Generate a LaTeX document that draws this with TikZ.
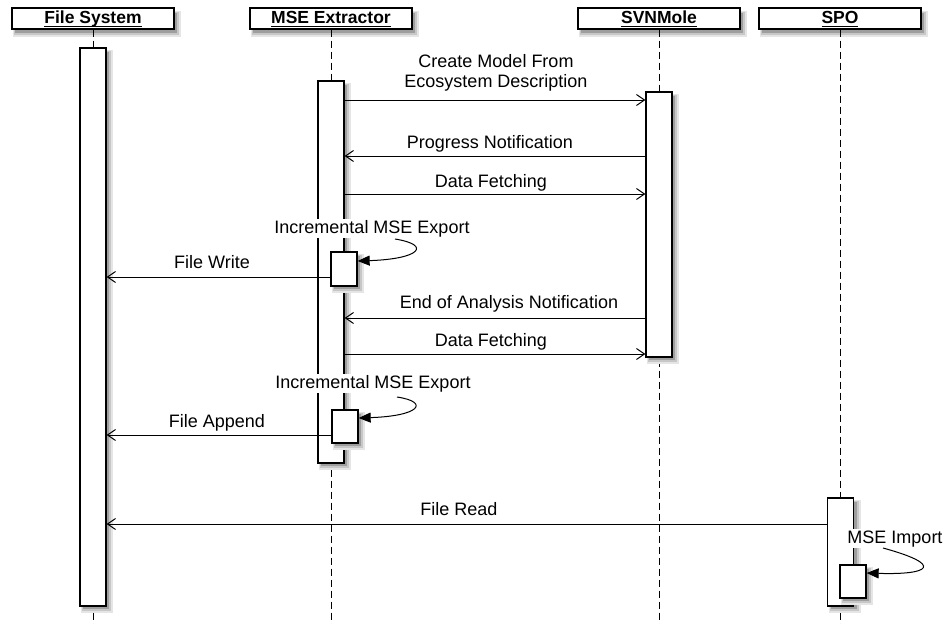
\documentclass[tikz,border=0pt]{standalone}
\usepackage{fontspec}
\setmainfont{Liberation Sans}
\usetikzlibrary{arrows.meta,positioning}
\newcommand\headtext[1]{\setbox0\hbox{#1}\rlap{\vrule height -2pt depth 3.3pt width \wd0}\box0}
\definecolor{shadeA}{gray}{0.90}
\definecolor{shadeB}{gray}{0.78}
\definecolor{shadeC}{gray}{0.62}

\begin{document}
\begin{tikzpicture}[x=1pt,y=-1pt,
    every node/.style={font=\fontsize{18}{20}\selectfont},
    head/.style={draw, line width=1.3pt, fill=white, minimum width=162pt, minimum height=21pt,
        inner sep=0pt, text height=12.5pt, text depth=2.5pt, font=\fontsize{17.5}{20}\selectfont\bfseries},
    bar/.style={draw, line width=1.3pt, fill=white, minimum width=26pt, inner sep=0pt},
    life/.style={dash pattern=on 7pt off 4pt, line width=1pt},
    msg/.style={-{Straight Barb[length=8pt,width=11pt]}, line width=1pt},
    selfcall/.style={-{Triangle[length=12pt,width=10pt]}, line width=1pt},
    lbl/.style={anchor=base, fill=white, inner sep=1pt}
    ]
\useasboundingbox (0,0) rectangle (946,624);

\foreach \n/\hx/\txt in {fs/93/File System, mse/331/MSE Extractor, svn/659/SVNMole, spo/840/SPO}{
    \fill[shadeA] (\hx-80,11) rectangle (\hx+88,37);
    \fill[shadeB] (\hx-79,12) rectangle (\hx+86,35);
    \fill[shadeC] (\hx-78,13) rectangle (\hx+84,33);
    \node[head] (\n) at (\hx,18.5) {\headtext{\txt}};
}

\foreach \n in {fs,mse,svn,spo}
    \draw[life] (\n.south) -- (\n.south |- 0,624);

\foreach \n/\bx/\by/\bh in {fsbar/93/327/558, msebar/331/272/382, svnbar/659/224.5/265,
        spobar/840.5/552/108, mseA/344/269/34, mseB/345/426.5/33, spoA/853/581.5/33}{
    \fill[shadeA] (\bx-12,\by-\bh/2+2) rectangle (\bx+20,\by+\bh/2+7);
    \fill[shadeB] (\bx-11,\by-\bh/2+3) rectangle (\bx+18,\by+\bh/2+5);
    \fill[shadeC] (\bx-10,\by-\bh/2+4) rectangle (\bx+16,\by+\bh/2+3);
    \node[bar, minimum height=\bh pt] (\n) at (\bx,\by) {};
}

\draw[msg] (msebar.east |- 0,100) -- (svnbar.west |- 0,100);
\draw[msg] (svnbar.west |- 0,156) -- (msebar.east |- 0,156);
\draw[msg] (msebar.east |- 0,194) -- (svnbar.west |- 0,194);
\draw[msg] (mseA.west |- 0,277)   -- (fsbar.east |- 0,277);
\draw[msg] (svnbar.west |- 0,318) -- (msebar.east |- 0,318);
\draw[msg] (msebar.east |- 0,354) -- (svnbar.west |- 0,354);
\draw[msg] (mseB.west |- 0,435)   -- (fsbar.east |- 0,435);
\draw[msg] (spobar.west |- 0,524) -- (fsbar.east |- 0,524);

\node[lbl] (t1a) at (496,67)  {Create Model From};
\node[lbl] (t1b) at (496,87)  {Ecosystem Description};
\node[lbl] (t2)  at (490,148) {Progress Notification};
\node[lbl] (t3)  at (491,187) {Data Fetching};
\node[lbl] (t4)  at (372,233) {Incremental MSE Export};
\node[lbl] (t5)  at (212,268) {File Write};
\node[lbl] (t6)  at (509,308) {End of Analysis Notification};
\node[lbl] (t7)  at (491,346) {Data Fetching};
\node[lbl] (t8)  at (373,388) {Incremental MSE Export};
\node[lbl] (t9)  at (217,427) {File Append};
\node[lbl] (t10) at (459,515) {File Read};
\node[lbl] (t11) at (895,543) {MSE Import};

\coordinate (s1) at (395,239);
\coordinate (s2) at (397,397);
\coordinate (s3) at (883,548);
\draw[selfcall] (s1) .. controls (432,245) and (420,259) .. (mseA.east |- 0,261);
\draw[selfcall] (s2) .. controls (430,402) and (420,416) .. (mseB.east |- 0,418);
\draw[selfcall] (s3) .. controls (945,565) and (930,575) .. (spoA.east |- 0,573);
\end{tikzpicture}
\end{document}
